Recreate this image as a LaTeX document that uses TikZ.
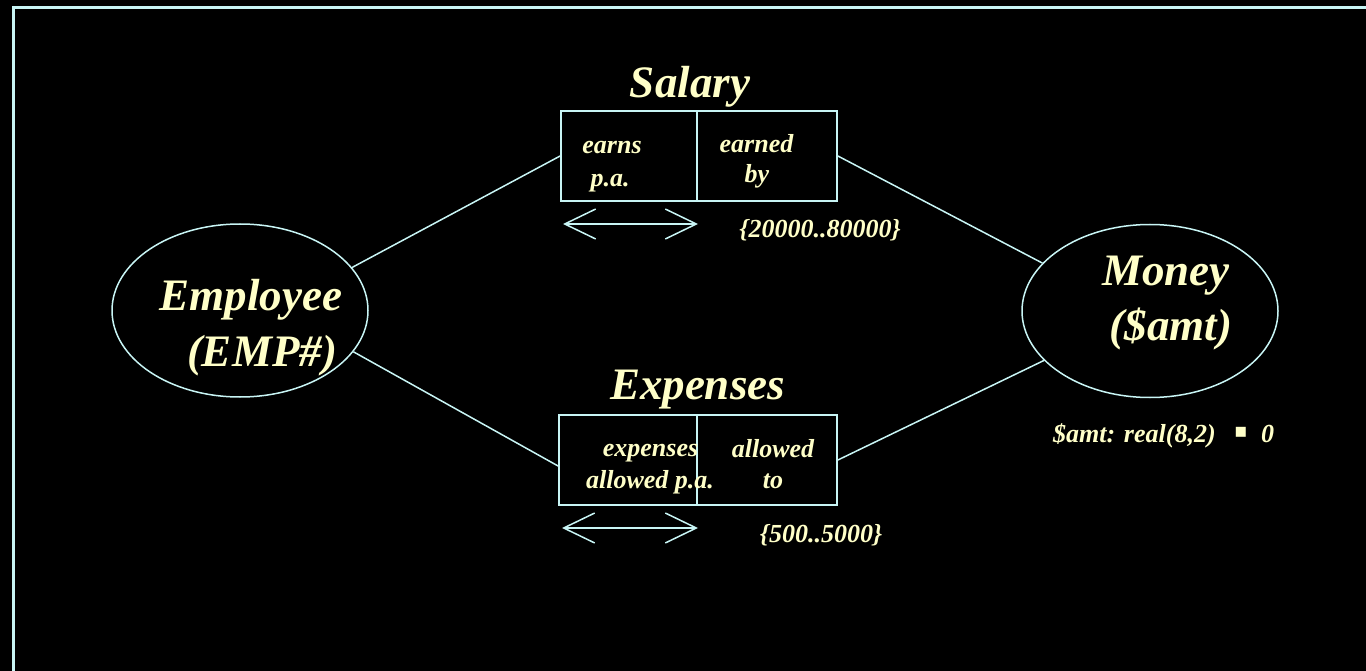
\documentclass[tikz,border=0pt]{standalone}
\usepackage{fontspec}
\setmainfont{Liberation Serif}
\newfontfamily\symfnt{DejaVu Sans}
\usetikzlibrary{arrows.meta,shapes.geometric}
\definecolor{txtc}{RGB}{255,255,200}
\definecolor{linec}{RGB}{200,245,245}
\tikzset{
  big/.style={text=txtc, font=\fontsize{45}{50}\bfseries\itshape\selectfont, inner sep=0pt, anchor=base},
  small/.style={text=txtc, font=\fontsize{26}{30}\bfseries\itshape\selectfont, inner sep=0pt, anchor=base},
  cell/.style={draw=linec, line width=1.8pt, rectangle, inner sep=0pt},
  entity/.style={draw=linec, line width=1.5pt, ellipse, inner sep=0pt, minimum width=256pt, minimum height=173pt},
  conn/.style={draw=linec, line width=1.5pt},
  dimarrow/.style={draw=linec, line width=1.5pt, {Straight Barb[length=31pt,width=30pt]}-{Straight Barb[length=31pt,width=30pt]}},
}
\begin{document}
\begin{tikzpicture}[x=1pt,y=-1pt]
\fill[black] (0,0) rectangle (1366,671);
\useasboundingbox (0,0) rectangle (1366,671);
% frame
\coordinate (fb) at (13.5,671);
\coordinate (fc) at (13.5,7.5);
\coordinate (fr) at (1366,7.5);
\draw[draw=linec, line width=2.2pt] (fb) -- (fc) -- (fr);

% entities
\node[entity] (emp) at (240,310.5) {};
\node[entity] (mon) at (1150,311) {};
\node[big] (empt1) at (251,310) {Employee};
\node[big] (empt2) at (262,366) {(EMP\#)};
\node[big] (mont1) at (1166,285) {Money};
\node[big] (mont2) at (1171,340) {(\$amt)};

% Salary fact
\node[cell, minimum width=136pt, minimum height=90pt] (salL) at (629,156) {};
\node[cell, minimum width=140pt, minimum height=90pt] (salR) at (767,156) {};
\node[big] (salT) at (690,98) {Salary};
\node[small] (s1) at (612,154) {earns};
\node[small] (s2) at (610,187) {p.a.};
\node[small] (s3) at (756.5,153) {earned};
\node[small] (s4) at (757,183) {by};
\coordinate (sa1) at (563,224);
\coordinate (sa2) at (698,224);
\draw[dimarrow] (sa1) -- (sa2);
\node[small] (srange) at (820,238) {\{20000..80000\}};

% Expenses fact
\node[cell, minimum width=138pt, minimum height=90pt] (expL) at (628,460) {};
\node[cell, minimum width=140pt, minimum height=90pt] (expR) at (767,460) {};
\node[big] (expT) at (697.5,399) {Expenses};
\node[small] (e1) at (650.5,456) {expenses};
\node[small] (e2) at (650,488) {allowed p.a.};
\node[small] (e3) at (773,457) {allowed};
\node[small] (e4) at (773,488) {to};
\coordinate (ea1) at (562,528);
\coordinate (ea2) at (698,528);
\draw[dimarrow] (ea1) -- (ea2);
\node[small] (erange) at (821,542) {\{500..5000\}};

% connectors
\draw[conn] (emp.21.9) -- (salL.west);
\draw[conn] (emp.-20.8) -- ([yshift=-6pt]expL.west);
\draw[conn] (salR.east) -- (mon.156);
\draw[conn] (expR.east) -- (mon.205);

% domain
\node[small, anchor=base west] (dom) at (1053,442) {\$amt: real(8,2)};
\node[text=txtc, font=\symfnt\fontsize{20}{24}\selectfont, inner sep=0pt] (dsq) at (1241,432) {▪};
\node[small] (dzero) at (1267.5,442) {0};
\end{tikzpicture}
\end{document}
